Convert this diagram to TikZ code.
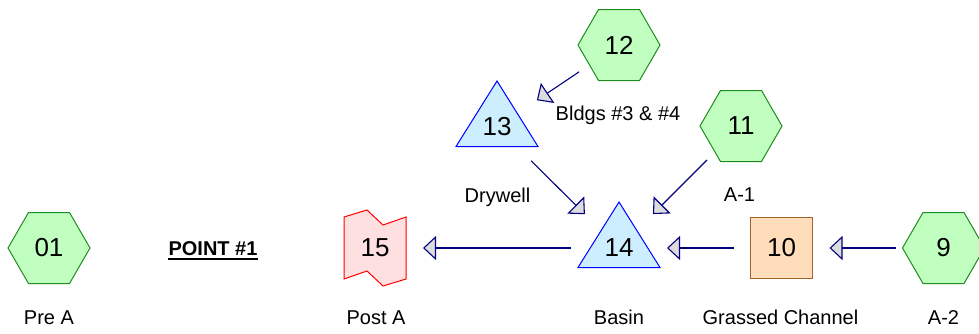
\documentclass[tikz,border=0pt]{standalone}
\usepackage{fontspec}
\setmainfont{Liberation Sans}
\usetikzlibrary{arrows.meta}
\definecolor{hexfill}{HTML}{C0FFC0}
\definecolor{hexline}{HTML}{1E8C1E}
\definecolor{trifill}{HTML}{CCEEFF}
\definecolor{triline}{HTML}{0000FF}
\definecolor{flagfill}{HTML}{FFE0E0}
\definecolor{flagline}{HTML}{FF0000}
\definecolor{boxfill}{HTML}{FFDDBB}
\definecolor{boxline}{HTML}{A0662E}
\definecolor{flowline}{HTML}{000080}
\definecolor{tipfill}{HTML}{DCDCDC}
\begin{document}
\begin{tikzpicture}[x=1pt,y=-1pt,
  num/.style={inner sep=0pt, font=\fontsize{26}{30}\selectfont},
  lbl/.style={inner sep=0pt, anchor=base, font=\fontsize{20}{24}\selectfont},
  hexshape/.style={fill=hexfill, draw=hexline, line width=1pt, line join=miter},
  trishape/.style={fill=trifill, draw=triline, line width=1pt, line join=miter},
  flagshape/.style={fill=flagfill, draw=flagline, line width=1pt, line join=miter},
  boxshape/.style={fill=boxfill, draw=boxline, line width=1pt},
  hexpic/.pic={\path[hexshape] (-41,0) -- (-20.5,-35.5) -- (20.5,-35.5) -- (41,0) -- (20.5,35.5) -- (-20.5,35.5) -- cycle;},
  tripic/.pic={\path[trishape] (0,-46) -- (41,19.5) -- (-41,19.5) -- cycle;},
  flagpic/.pic={\path[flagshape] (-31,-31) -- (-8,-38) -- (8,-23) -- (31,-31) -- (31,31) -- (8,38) -- (-8,23) -- (-31,31) -- cycle;},
  boxpic/.pic={\path[boxshape] (-30.75,-30.75) rectangle (30.75,30.75);},
  flow/.style={draw=flowline, line width=1.1pt, shorten <=48pt, shorten >=48pt,
    -{Triangle[length=13pt,width=24pt,fill=tipfill,line join=miter]}}
]
\useasboundingbox (0,0) rectangle (979,333);

% shapes
\pic at (49,248) {hexpic};
\pic at (619,45) {hexpic};
\pic at (741,126) {hexpic};
\pic at (943.5,248) {hexpic};
\pic at (497,127) {tripic};
\pic at (619,248) {tripic};
\pic at (375,248) {flagpic};
\pic at (781.5,248) {boxpic};

% numbers
\node[num] (n01) at (49,248) {01};
\node[num] (n12) at (619,45) {12};
\node[num] (n11) at (741,126) {11};
\node[num] (n9) at (943.5,248) {9};
\node[num] (n13) at (497,127) {13};
\node[num] (n14) at (619,248) {14};
\node[num] (n15) at (375,248) {15};
\node[num] (n10) at (781.5,248) {10};

% labels
\node[lbl] (l01) at (49,324) {Pre A};
\node[lbl] (l15) at (376,324) {Post A};
\node[lbl] (l14) at (619,324) {Basin};
\node[lbl] (l10) at (780.5,324) {Grassed Channel};
\node[lbl] (l9) at (943.5,324) {A-2};
\node[lbl] (l11) at (739.5,201.5) {A-1};
\node[lbl] (l13) at (497.5,202) {Drywell};
\node[lbl] (l12) at (618,120.5) {Bldgs \#3 \& \#4};
\node[lbl, font=\bfseries\fontsize{20}{24}\selectfont] (pt) at (213,255) {POINT \#1};
\draw[line width=2pt] ([yshift=-3.5pt]pt.base west) -- ([yshift=-3.5pt]pt.base east);

% connectors
\draw[flow] (n12.center) -- (n13.center);
\draw[flow] (n13.center) -- (n14.center);
\draw[flow] (n11.center) -- (n14.center);
\draw[flow] (n14.center) -- (n15.center);
\draw[flow] (n10.center) -- (n14.center);
\draw[flow] (n9.center) -- (n10.center);
\end{tikzpicture}
\end{document}
